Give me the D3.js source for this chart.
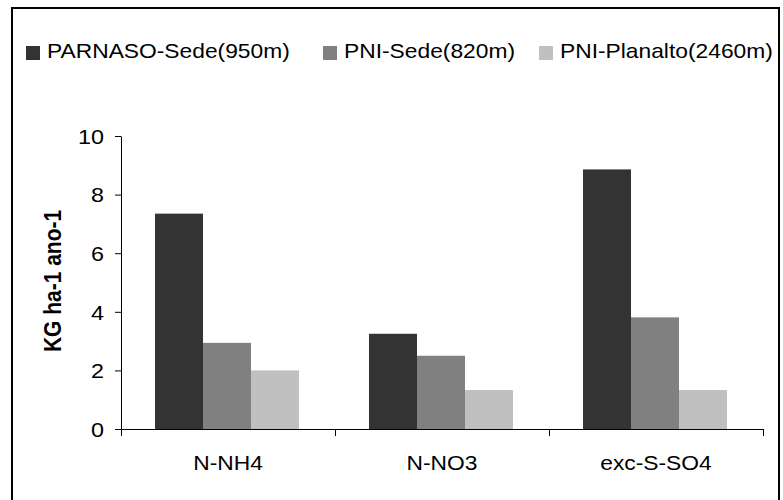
<!DOCTYPE html>
<html>
<head>
<meta charset="utf-8">
<script src="https://cdn.jsdelivr.net/npm/d3@7"></script>
<style>
  body { margin: 0; background: #fff; }
  svg { display: block; font-family: "Liberation Sans", Arial, sans-serif; }
</style>
</head>
<body>
<svg id="chart"></svg>
<script>
const categories = ["N-NH4", "N-NO3", "exc-S-SO4"];
const seriesNames = ["PARNASO-Sede(950m)", "PNI-Sede(820m)", "PNI-Planalto(2460m)"];
const seriesColors = ["#333333", "#808080", "#c0c0c0"];
const parnasoSede = [7.35, 3.25, 8.86];
const pniSede = [2.94, 2.5, 3.81];
const pniPlanalto = [2.0, 1.33, 1.33];
const yTicks = [0, 2, 4, 6, 8, 10];

const seriesValues = [parnasoSede, pniSede, pniPlanalto];
const width = 783, height = 500;
const sx = 1.14; // the original picture is a bit stretched sideways

const svg = d3.select("#chart").attr("width", width).attr("height", height);

// outer frame (bottom edge falls outside the picture)
svg.append("rect")
  .attr("x", 12).attr("y", 8)
  .attr("width", 767).attr("height", 600)
  .attr("fill", "none").attr("stroke", "#000").attr("stroke-width", 2);

const x0 = d3.scaleBand().domain(categories).range([121, 763]);
const x1 = d3.scaleBand().domain(d3.range(seriesNames.length)).range([34, 178]);
const y = d3.scaleLinear().domain([0, 10]).range([429, 136]);

// bars
const groups = svg.append("g").selectAll("g").data(categories).enter().append("g")
  .attr("transform", (d) => `translate(${x0(d)},0)`);

groups.selectAll("rect")
  .data((d, i) => seriesValues.map((s, j) => ({ j, v: s[i] })))
  .enter().append("rect")
  .attr("x", (d) => x1(d.j))
  .attr("y", (d) => y(d.v))
  .attr("width", x1.bandwidth())
  .attr("height", (d) => y(0) - y(d.v))
  .attr("fill", (d) => seriesColors[d.j]);

// y axis
const yAxis = svg.append("g").attr("transform", "translate(121,0)")
  .call(d3.axisLeft(y).tickValues(yTicks).tickSize(6).tickPadding(4).tickSizeOuter(0));
yAxis.select(".domain").attr("stroke", "#000");
yAxis.selectAll(".tick line").attr("stroke", "#000");
yAxis.selectAll(".tick text").remove();
yAxis.selectAll(".tick").append("text")
  .attr("transform", `translate(-17,0) scale(${sx},1)`)
  .attr("text-anchor", "end").attr("dy", "0.36em")
  .attr("font-size", 20.5).attr("fill", "#000")
  .text((d) => d);

// x axis: ticks sit between the categories
svg.append("line")
  .attr("x1", 121).attr("x2", 763).attr("y1", 429.5).attr("y2", 429.5)
  .attr("stroke", "#000");
svg.append("g").selectAll("line")
  .data(categories.concat(["end"]))
  .enter().append("line")
  .attr("x1", (d, i) => (i < categories.length ? x0(d) : x0.range()[1]) + 0.5)
  .attr("x2", (d, i) => (i < categories.length ? x0(d) : x0.range()[1]) + 0.5)
  .attr("y1", 429).attr("y2", 436)
  .attr("stroke", "#000");

svg.append("g").selectAll("text").data(categories).enter().append("text")
  .attr("transform", (d) => `translate(${x0(d) + x0.bandwidth() / 2},470) scale(${sx},1)`)
  .attr("text-anchor", "middle")
  .attr("font-size", 20).attr("fill", "#000")
  .text((d) => d);

// y title
svg.append("text")
  .attr("transform", `translate(61,281) scale(${sx},1) rotate(-90)`)
  .attr("text-anchor", "middle")
  .attr("font-size", 21).attr("font-weight", "bold").attr("fill", "#000")
  .text("KG ha-1 ano-1");

// legend
const legendX = [26, 323, 539];
const legend = svg.append("g").selectAll("g").data(seriesNames).enter().append("g")
  .attr("transform", (d, i) => `translate(${legendX[i]},0)`);
legend.append("rect")
  .attr("x", 0).attr("y", 46).attr("width", 14).attr("height", 14)
  .attr("fill", (d, i) => seriesColors[i]);
legend.append("text")
  .attr("transform", `translate(21,58) scale(${sx},1)`)
  .attr("font-size", 20).attr("fill", "#000")
  .text((d) => d);
</script>
</body>
</html>
